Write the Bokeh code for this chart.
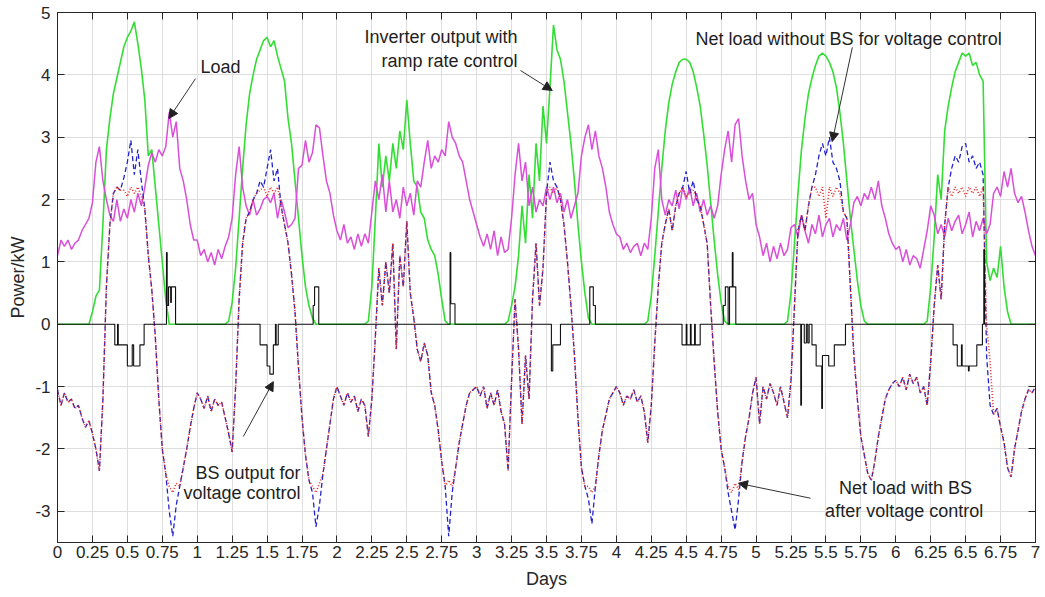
from bokeh.plotting import figure
from bokeh.models import Range1d, FixedTicker, LinearAxis, ColumnDataSource, Arrow, NormalHead, CustomJSTickFormatter
from bokeh.core.properties import value
from bokeh.embed import file_html
from bokeh.resources import INLINE

# time axis: 0 .. 7 days, sampled every 0.025 day
STEP = 0.025
t = [round(i * STEP, 3) for i in range(281)]

# ---------------- Load (kW) ----------------
load_d0 = [1.1, 1.35, 1.25, 1.35, 1.2, 1.3, 1.35, 1.5, 1.6, 1.7, 1.95, 2.6, 2.85, 2.3, 2.0, 1.75, 1.65, 2.0, 1.65, 1.85,
           1.7, 2.0, 1.8, 2.1, 1.9, 2.2, 2.55, 2.75, 2.6, 2.8, 2.7, 2.85, 3.4, 3.0, 3.25, 2.5, 2.3, 2.0, 1.6, 1.35]
load_d1 = [1.35, 1.1, 1.2, 1.0, 1.15, 0.95, 1.2, 1.05, 1.25, 1.4, 1.7, 2.4, 2.85, 2.2, 1.9, 1.75, 2.0, 1.75, 1.85, 2.0,
           2.05, 1.95, 2.1, 1.7, 2.0, 1.8, 1.55, 1.6, 1.7, 2.5, 2.55, 2.95, 2.6, 2.75, 3.2, 3.15, 2.7, 2.3, 2.1, 1.75]
load_d2 = [1.5, 1.35, 1.6, 1.3, 1.4, 1.2, 1.45, 1.25, 1.45, 1.3, 1.8, 2.3, 2.0, 2.4, 1.8, 2.3, 1.8, 2.0, 1.7, 2.2,
           1.9, 2.1, 1.75, 2.3, 2.2, 2.6, 2.95, 2.5, 2.7, 2.6, 2.8, 2.7, 3.25, 3.0, 2.9, 2.7, 2.6, 2.3, 2.0, 1.8]
load_d3 = [1.6, 1.4, 1.25, 1.45, 1.2, 1.5, 1.1, 1.4, 1.15, 1.2, 1.7, 2.4, 2.9, 2.3, 2.6, 1.9, 2.2, 1.8, 2.0, 1.9,
           2.2, 2.0, 2.2, 1.95, 2.1, 1.8, 2.0, 1.7, 1.9, 2.1, 2.7, 3.0, 3.2, 2.8, 3.1, 2.7, 2.5, 2.2, 1.8, 1.6]
load_d4 = [1.45, 1.4, 1.2, 1.3, 1.15, 1.25, 1.3, 1.1, 1.3, 1.2, 1.7, 2.5, 2.8, 2.0, 1.75, 2.0, 1.9, 2.15, 1.85, 2.2,
           2.0, 2.2, 1.9, 2.1, 1.8, 2.0, 1.75, 1.9, 1.7, 1.9, 2.4, 2.8, 3.1, 2.6, 3.2, 3.3, 2.7, 2.3, 2.0, 2.1]
load_d5 = [1.6, 1.4, 1.1, 1.3, 1.0, 1.25, 1.05, 1.3, 1.1, 1.2, 1.55, 1.6, 1.4, 1.75, 1.5, 1.3, 1.6, 1.45, 1.75, 1.4,
           1.6, 1.7, 1.4, 1.6, 1.5, 1.7, 1.35, 1.6, 1.95, 2.05, 1.9, 2.1, 2.0, 2.2, 2.0, 2.3, 1.9, 1.7, 1.45, 1.3]
load_d6 = [1.2, 1.25, 1.0, 1.2, 0.95, 1.1, 1.05, 0.9, 1.2, 1.5, 1.9, 1.75, 1.45, 1.6, 1.4, 1.7, 1.5, 1.65, 1.75, 1.45,
           1.6, 1.8, 1.4, 1.65, 1.5, 1.7, 1.45, 1.6, 2.1, 2.2, 2.05, 2.45, 2.2, 2.5, 2.1, 1.95, 2.05, 1.8, 1.5, 1.25]
load_end = [1.1]
load = load_d0 + load_d1 + load_d2 + load_d3 + load_d4 + load_d5 + load_d6 + load_end

# ---------------- Inverter output with ramp rate control (kW) ----------------
pv_d0 = [0, 0, 0, 0, 0, 0, 0, 0, 0, 0, 0.2, 0.45, 0.55, 1.6, 2.8, 3.3, 3.7, 3.95, 4.2, 4.45,
         4.6, 4.7, 4.85, 4.5, 4.1, 3.6, 2.7, 2.8, 2.2, 1.6, 1.0, 0.4, 0, 0, 0, 0, 0, 0, 0, 0]
pv_d1 = [0, 0, 0, 0, 0, 0, 0, 0, 0, 0.05, 0.35, 0.9, 1.7, 2.5, 3.2, 3.7, 4.0, 4.25, 4.4, 4.55,
         4.6, 4.45, 4.55, 4.3, 4.1, 3.9, 3.3, 2.9, 2.3, 1.7, 1.1, 0.6, 0.3, 0.1, 0, 0, 0, 0, 0, 0]
pv_d2 = [0, 0, 0, 0, 0, 0, 0, 0, 0, 0.05, 0.6, 1.7, 2.9, 2.2, 2.7, 2.3, 2.9, 2.5, 3.1, 2.8,
         3.6, 2.9, 2.3, 2.2, 1.8, 1.7, 1.35, 1.2, 1.1, 0.8, 0.4, 0.05, 0, 0, 0, 0, 0, 0, 0, 0]
pv_d3 = [0, 0, 0, 0, 0, 0, 0, 0, 0, 0.05, 0.3, 0.6, 1.1, 1.9, 1.3, 2.4, 1.7, 2.9, 2.3, 3.5,
         2.9, 3.8, 4.8, 4.4, 4.25, 3.9, 3.4, 2.9, 2.3, 1.6, 1.0, 0.5, 0.1, 0, 0, 0, 0, 0, 0, 0]
pv_d4 = [0, 0, 0, 0, 0, 0, 0, 0, 0, 0.05, 0.45, 1.1, 1.8, 2.5, 3.1, 3.55, 3.85, 4.05, 4.2, 4.25,
         4.25, 4.2, 4.05, 3.8, 3.5, 3.05, 2.55, 1.95, 1.35, 0.8, 0.35, 0.05, 0, 0, 0, 0, 0, 0, 0, 0]
pv_d5 = [0, 0, 0, 0, 0, 0, 0, 0, 0, 0.05, 0.5, 1.3, 2.1, 2.8, 3.3, 3.7, 3.95, 4.15, 4.3, 4.35,
         4.3, 4.2, 4.05, 3.8, 3.4, 2.9, 2.3, 1.7, 1.2, 0.7, 0.3, 0.05, 0, 0, 0, 0, 0, 0, 0, 0]
pv_d6 = [0, 0, 0, 0, 0, 0, 0, 0, 0, 0.05, 0.6, 1.4, 2.4, 2.0, 3.1, 3.5, 3.8, 4.05, 4.2, 4.35,
         4.3, 4.35, 4.15, 4.2, 4.0, 3.9, 1.0, 0.7, 0.9, 0.75, 1.25, 0.6, 0.2, 0, 0, 0, 0, 0, 0, 0]
pv_end = [0]
pv = pv_d0 + pv_d1 + pv_d2 + pv_d3 + pv_d4 + pv_d5 + pv_d6 + pv_end

# ---------------- Net load without BS (kW) ----------------
nl_d0 = [-1.05, -1.3, -1.1, -1.25, -1.2, -1.35, -1.3, -1.5, -1.65, -1.55, -1.75, -2.0, -2.35, -1.2, 0.6, 1.6, 2.1, 2.2, 2.15, 2.35,
         2.6, 2.95, 2.4, 2.8, 2.3, 1.85, 1.1, 0.55, -0.2, -1.2, -2.0, -2.4, -3.0, -3.4, -2.9, -2.6, -2.3, -2.0, -1.65, -1.35]
nl_d1 = [-1.1, -1.2, -1.35, -1.15, -1.4, -1.2, -1.3, -1.25, -1.5, -1.75, -2.05, -1.0, 0.4, 1.3, 1.7, 1.8, 2.0, 2.1, 2.3, 2.2,
         2.5, 2.8, 2.3, 2.5, 1.9, 1.6, 1.3, 0.8, 0.2, -0.7, -1.5, -2.1, -2.5, -2.7, -3.25, -2.9, -2.4, -2.0, -1.6, -1.2]
nl_d2 = [-1.0, -1.15, -1.3, -1.1, -1.25, -1.15, -1.4, -1.2, -1.3, -1.8, -1.2, -0.2, 0.9, 0.3, 1.0, 0.5, 1.3, -0.4, 1.1, 0.6,
         1.65, 0.5, 0.1, -0.4, -0.6, -0.3, -0.5, -1.1, -1.3, -1.7, -2.2, -2.6, -3.4, -2.7, -2.3, -1.9, -1.6, -1.3, -1.1, -1.05]
nl_d3 = [-1.0, -1.15, -1.0, -1.35, -1.1, -1.3, -1.05, -1.4, -1.6, -2.35, -0.9, 0.4, -0.4, -1.6, -0.5, -1.2, 0.4, 1.3, 0.3, 0.9,
         2.1, 2.6, 2.3, 2.2, 2.0, 1.6, 1.0, 0.3, -0.5, -1.5, -2.3, -2.6, -2.8, -3.2, -2.6, -2.1, -1.7, -1.45, -1.2, -1.1]
nl_d4 = [-1.0, -1.1, -1.3, -1.15, -1.2, -1.05, -1.25, -1.15, -1.4, -1.9, -1.3, -0.3, 0.6, 1.3, 1.6, 1.85, 1.5, 1.9, 2.1, 2.2,
         2.45, 2.1, 2.3, 2.0, 1.9, 1.6, 1.3, 0.3, -0.6, -1.4, -2.0, -2.3, -2.7, -3.0, -3.3, -2.8, -2.2, -1.8, -1.5, -1.1]
nl_d5 = [-0.85, -1.6, -1.0, -1.2, -0.95, -1.1, -1.3, -1.0, -1.25, -1.5, -0.9, 0.3, 1.5, 1.75, 1.5, 1.9, 2.2, 2.4, 2.7, 2.9,
         2.7, 3.0, 2.6, 2.5, 2.3, 1.8, 1.7, 0.6, -0.5, -1.2, -1.8, -2.1, -2.4, -2.5, -2.2, -1.8, -1.5, -1.2, -1.05, -0.95]
nl_d6 = [-0.9, -1.0, -0.85, -1.05, -0.8, -0.95, -0.85, -1.1, -1.0, -1.3, -0.6, 0.3, 0.95, 0.4, 1.6, 2.2, 2.5, 2.7, 2.6, 2.85,
         2.9, 2.6, 2.7, 2.5, 2.6, 2.4, -0.5, -1.3, -1.45, -1.35, -1.65, -1.9, -2.3, -2.45, -2.0, -1.7, -1.4, -1.2, -1.05, -1.1]
nl_end = [-1.0]
netload = nl_d0 + nl_d1 + nl_d2 + nl_d3 + nl_d4 + nl_d5 + nl_d6 + nl_end

# ---------------- Net load with BS after voltage control (kW) ----------------
nb_d0 = [-1.05, -1.3, -1.1, -1.25, -1.2, -1.35, -1.3, -1.5, -1.65, -1.55, -1.75, -2.0, -2.35, -1.2, 0.6, 1.6, 2.1, 2.2, 2.15, 2.15,
         2.05, 2.2, 2.1, 2.2, 2.05, 1.85, 1.1, 0.55, -0.2, -1.2, -2.0, -2.4, -2.6, -2.7, -2.55, -2.6, -2.3, -2.0, -1.65, -1.35]
nb_d1 = [-1.1, -1.2, -1.35, -1.15, -1.4, -1.2, -1.3, -1.25, -1.5, -1.75, -2.05, -1.0, 0.4, 1.3, 1.7, 1.8, 2.0, 2.1, 2.15, 2.2,
         2.05, 2.2, 2.1, 2.2, 1.9, 1.6, 1.3, 0.8, 0.2, -0.7, -1.5, -2.1, -2.5, -2.6, -2.7, -2.55, -2.4, -2.0, -1.6, -1.2]
nb_d2 = [-1.0, -1.15, -1.3, -1.1, -1.25, -1.15, -1.4, -1.2, -1.3, -1.8, -1.2, -0.2, 0.9, 0.3, 1.0, 0.5, 1.3, -0.4, 1.1, 0.6,
         1.65, 0.5, 0.1, -0.4, -0.6, -0.3, -0.5, -1.1, -1.3, -1.7, -2.2, -2.6, -2.5, -2.6, -2.3, -1.9, -1.6, -1.3, -1.1, -1.05]
nb_d3 = [-1.0, -1.15, -1.0, -1.35, -1.1, -1.3, -1.05, -1.4, -1.6, -2.35, -0.9, 0.4, -0.4, -1.6, -0.5, -1.2, 0.4, 1.3, 0.3, 0.9,
         2.1, 2.2, 2.1, 2.2, 2.0, 1.6, 1.0, 0.3, -0.5, -1.5, -2.3, -2.6, -2.6, -2.7, -2.6, -2.1, -1.7, -1.45, -1.2, -1.1]
nb_d4 = [-1.0, -1.1, -1.3, -1.15, -1.2, -1.05, -1.25, -1.15, -1.4, -1.9, -1.3, -0.3, 0.6, 1.3, 1.6, 1.85, 1.5, 1.9, 2.1, 2.2,
         2.05, 2.1, 2.15, 2.0, 1.9, 1.6, 1.3, 0.3, -0.6, -1.4, -2.0, -2.3, -2.6, -2.7, -2.55, -2.65, -2.2, -1.8, -1.5, -1.1]
nb_d5 = [-0.85, -1.6, -1.0, -1.2, -0.95, -1.1, -1.3, -1.0, -1.25, -1.5, -0.9, 0.3, 1.5, 1.75, 1.5, 1.9, 2.2, 2.2, 2.05, 2.2,
         1.7, 2.2, 2.05, 2.2, 2.1, 1.8, 1.7, 0.6, -0.5, -1.2, -1.8, -2.1, -2.4, -2.5, -2.2, -1.8, -1.5, -1.2, -1.05, -0.95]
nb_d6 = [-0.9, -1.0, -0.85, -1.05, -0.8, -0.95, -0.85, -1.1, -1.0, -1.3, -0.6, 0.3, 0.95, 0.4, 1.6, 2.2, 2.05, 2.2, 2.1, 2.2,
         2.05, 2.2, 2.1, 2.2, 2.05, 2.2, 0.0, -0.6, -1.45, -1.35, -1.65, -1.9, -2.3, -2.45, -2.0, -1.7, -1.4, -1.2, -1.05, -1.1]
nb_end = [-1.0]
netload_bs = nb_d0 + nb_d1 + nb_d2 + nb_d3 + nb_d4 + nb_d5 + nb_d6 + nb_end

# ---------------- BS output for voltage control (kW), stepwise ----------------
bs_t = [0, 0.41, 0.43, 0.435, 0.5, 0.535, 0.545, 0.555, 0.59, 0.62, 0.78, 0.785, 0.795, 0.81, 0.815, 0.845,
        1.45, 1.5, 1.52, 1.545, 1.56, 1.565, 1.58, 1.83, 1.84, 1.87,
        2.81, 2.815, 2.845,
        3.535, 3.545, 3.6, 3.81, 3.835, 3.85,
        4.47, 4.5, 4.505, 4.53, 4.535, 4.56, 4.565, 4.6, 4.765, 4.78, 4.8, 4.81, 4.83, 4.835, 4.855,
        5.32, 5.325, 5.345, 5.36, 5.37, 5.38, 5.4, 5.43, 5.47, 5.475, 5.52, 5.56, 5.64,
        6.41, 6.44, 6.47, 6.475, 6.5, 6.52, 6.525, 6.58, 6.62, 6.63, 6.635, 7.0]
bs_v = [0, -0.33, 0, -0.33, -0.67, -0.33, -0.67, -0.67, -0.33, 0, 1.15, 0.3, 0.6, 0.35, 0.6, 0,
        -0.33, -0.67, -0.8, -0.33, 0, -0.33, 0, 0.3, 0.6, 0,
        1.15, 0.33, 0,
        -0.75, -0.33, 0, 0.6, 0.3, 0,
        -0.33, 0, -0.33, 0, -0.33, 0, -0.33, 0, 0.3, 0.6, 0, 0.6, 1.15, 0.6, 0,
        -1.3, 0, -0.3, 0, -0.3, 0, -0.33, -0.67, -1.35, -0.5, -0.67, -0.33, 0,
        -0.33, -0.67, -0.33, -0.67, -0.67, -0.75, -0.67, -0.33, 0, 1.2, 0, 0]

# ticks
x_ticks = [k * 0.25 for k in range(29)]
y_ticks = [-3, -2, -1, 0, 1, 2, 3, 4, 5]

# annotations
ann_text = ["Load", "Inverter output with", "ramp rate control", "Net load without BS for voltage control",
            "BS output for", "voltage control", "Net load with BS", "after voltage control"]
ann_x = [1.167, 3.293, 3.293, 5.662, 1.739, 1.739, 6.07, 6.06]
ann_y = [4.12, 4.60, 4.23, 4.58, -2.38, -2.71, -2.63, -2.99]
ann_align = ["center", "right", "right", "center", "right", "right", "center", "center"]
arr_x0 = [0.988, 3.314, 5.689, 1.33, 5.39]
arr_y0 = [3.94, 4.07, 4.44, -1.80, -2.79]
arr_x1 = [0.797, 3.541, 5.545, 1.545, 4.874]
arr_y1 = [3.30, 3.75, 2.93, -0.92, -2.55]

FONT = "Liberation Sans"
DARK = "#262626"

p = figure(width=1045, height=597, x_range=Range1d(0, 7), y_range=Range1d(-3.5, 5),
           output_backend="svg", toolbar_location=None,
           min_border_left=57, min_border_right=10, min_border_top=12, min_border_bottom=55)
p.background_fill_color = "white"
p.border_fill_color = "white"
p.outline_line_color = DARK

p.line(t, pv, color="#33dd33", line_width=1.6)
p.line(t, load, color="#d94fd9", line_width=1.5)
p.line(t, netload, color="#2222cc", line_width=1.3, line_dash="5 3")
p.line(t, netload_bs, color="#e82a2a", line_width=1.6, line_dash="1 2")
p.step(bs_t, bs_v, mode="after", color="#111111", line_width=1.1)

fmt = CustomJSTickFormatter(code="return String(Math.round(tick*100)/100);")
blank = CustomJSTickFormatter(code="return '';")

for ax in (p.xaxis[0], p.yaxis[0]):
    ax.major_tick_in = 7
    ax.major_tick_out = 0
    ax.minor_tick_line_color = None
    ax.axis_line_color = DARK
    ax.major_tick_line_color = DARK
    ax.major_label_text_color = DARK
    ax.major_label_text_font = FONT
    ax.major_label_text_font_size = "17px"
    ax.axis_label_text_font = FONT
    ax.axis_label_text_font_size = "18px"
    ax.axis_label_text_font_style = "normal"
    ax.axis_label_text_color = DARK

p.xaxis.ticker = FixedTicker(ticks=x_ticks)
p.xaxis.formatter = fmt
p.xaxis.axis_label = "Days"
p.xaxis.major_label_standoff = 3
p.xaxis.axis_label_standoff = 8
p.yaxis.ticker = FixedTicker(ticks=y_ticks)
p.yaxis.formatter = fmt
p.yaxis.axis_label = "Power/kW"
p.yaxis.major_label_standoff = 7
p.yaxis.axis_label_standoff = 4

top = LinearAxis(ticker=FixedTicker(ticks=x_ticks), formatter=blank, major_label_text_font_size="0px",
                 major_tick_in=7, major_tick_out=0, minor_tick_line_color=None, axis_line_color=DARK,
                 major_tick_line_color=DARK, major_label_standoff=0)
right = LinearAxis(ticker=FixedTicker(ticks=y_ticks), formatter=blank, major_label_text_font_size="0px",
                   major_tick_in=7, major_tick_out=0, minor_tick_line_color=None, axis_line_color=DARK,
                   major_tick_line_color=DARK, major_label_standoff=0)
p.add_layout(top, "above")
p.add_layout(right, "right")

p.xgrid.ticker = FixedTicker(ticks=x_ticks)
p.ygrid.ticker = FixedTicker(ticks=y_ticks)
p.xgrid.grid_line_color = "#dedede"
p.ygrid.grid_line_color = "#dedede"

for align in ("center", "right"):
    idx = [i for i, a in enumerate(ann_align) if a == align]
    src = ColumnDataSource(dict(x=[ann_x[i] for i in idx], y=[ann_y[i] for i in idx],
                                text=[ann_text[i] for i in idx]))
    p.text(x="x", y="y", text="text", source=src, text_align=align, text_baseline="middle",
           text_font=value(FONT), text_font_size="18px", text_color="#1e1e1e")

for x0, y0, x1, y1 in zip(arr_x0, arr_y0, arr_x1, arr_y1):
    p.add_layout(Arrow(end=NormalHead(size=9, fill_color="#222222", line_color="#222222", line_width=1),
                       x_start=x0, y_start=y0, x_end=x1, y_end=y1, line_color="#333333", line_width=1))

open("out.html", "w").write(file_html(p, INLINE))
